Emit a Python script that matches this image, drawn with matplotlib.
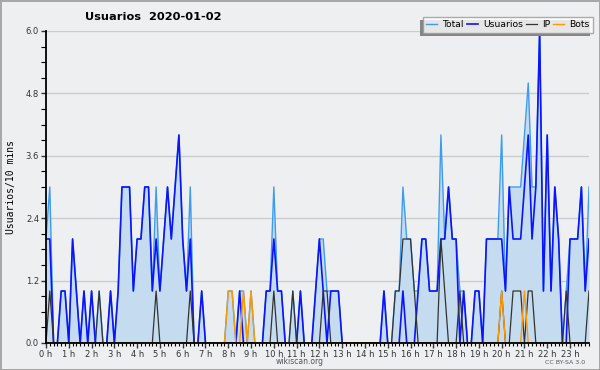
import numpy as np
import matplotlib.pyplot as plt
from matplotlib.patches import Rectangle
from matplotlib.transforms import IdentityTransform

# 每 10 分钟一个值，每行是一个小时 (6 个值)
total = [
    2, 3, 0, 0, 1, 1,
    0, 2, 1, 0, 1, 0,
    1, 0, 1, 0, 0, 1,
    0, 1, 3, 3, 3, 1,
    2, 2, 3, 3, 1, 3,
    1, 2, 3, 2, 3, 4,
    2, 1, 3, 0, 0, 1,
    0, 0, 0, 0, 0, 0,
    1, 1, 0, 1, 1, 0,
    1, 0, 0, 0, 1, 1,
    3, 1, 1, 0, 0, 1,
    0, 1, 0, 0, 0, 1,
    2, 2, 1, 1, 1, 1,
    0, 0, 0, 0, 0, 0,
    0, 0, 0, 0, 0, 1,
    0, 0, 1, 1, 3, 2,
    2, 1, 1, 2, 2, 1,
    1, 1, 4, 2, 3, 2,
    2, 1, 1, 0, 0, 1,
    1, 0, 2, 2, 2, 2,
    4, 1, 3, 3, 3, 3,
    4, 5, 3, 3, 6, 1,
    4, 1, 3, 2, 0, 1,
    2, 2, 2, 3, 1, 3,
]
usuarios = [
    2, 2, 0, 0, 1, 1,
    0, 2, 1, 0, 1, 0,
    1, 0, 0, 0, 0, 1,
    0, 1, 3, 3, 3, 1,
    2, 2, 3, 3, 1, 2,
    1, 2, 3, 2, 3, 4,
    2, 1, 2, 0, 0, 1,
    0, 0, 0, 0, 0, 0,
    0, 0, 0, 1, 0, 0,
    0, 0, 0, 0, 1, 1,
    2, 1, 1, 0, 0, 0,
    0, 1, 0, 0, 0, 1,
    2, 1, 0, 1, 1, 1,
    0, 0, 0, 0, 0, 0,
    0, 0, 0, 0, 0, 1,
    0, 0, 0, 0, 1, 0,
    0, 0, 1, 2, 2, 1,
    1, 1, 2, 2, 3, 2,
    2, 0, 1, 0, 0, 1,
    1, 0, 2, 2, 2, 2,
    2, 1, 3, 2, 2, 2,
    3, 4, 2, 3, 6, 1,
    4, 1, 3, 2, 0, 0,
    2, 2, 2, 3, 1, 2,
]
ip = [
    0, 1, 0, 0, 0, 0,
    0, 0, 0, 0, 0, 0,
    0, 0, 1, 0, 0, 0,
    0, 0, 0, 0, 0, 0,
    0, 0, 0, 0, 0, 1,
    0, 0, 0, 0, 0, 0,
    0, 0, 1, 0, 0, 0,
    0, 0, 0, 0, 0, 0,
    0, 0, 0, 0, 0, 0,
    0, 0, 0, 0, 0, 0,
    1, 0, 0, 0, 0, 1,
    0, 0, 0, 0, 0, 0,
    0, 1, 1, 0, 0, 0,
    0, 0, 0, 0, 0, 0,
    0, 0, 0, 0, 0, 0,
    0, 0, 1, 1, 2, 2,
    2, 1, 0, 0, 0, 0,
    0, 0, 2, 1, 0, 0,
    0, 1, 0, 0, 0, 0,
    0, 0, 0, 0, 0, 0,
    1, 0, 0, 1, 1, 1,
    0, 1, 1, 0, 0, 0,
    0, 0, 0, 0, 0, 1,
    0, 0, 0, 0, 0, 1,
]
bots = [
    0, 0, 0, 0, 0, 0,
    0, 0, 0, 0, 0, 0,
    0, 0, 0, 0, 0, 0,
    0, 0, 0, 0, 0, 0,
    0, 0, 0, 0, 0, 0,
    0, 0, 0, 0, 0, 0,
    0, 0, 0, 0, 0, 0,
    0, 0, 0, 0, 0, 0,
    1, 1, 0, 0, 1, 0,
    1, 0, 0, 0, 0, 0,
    0, 0, 0, 0, 0, 0,
    0, 0, 0, 0, 0, 0,
    0, 0, 0, 0, 0, 0,
    0, 0, 0, 0, 0, 0,
    0, 0, 0, 0, 0, 0,
    0, 0, 0, 0, 0, 0,
    0, 0, 0, 0, 0, 0,
    0, 0, 0, 0, 0, 0,
    0, 0, 0, 0, 0, 0,
    0, 0, 0, 0, 0, 0,
    1, 0, 0, 0, 0, 0,
    1, 0, 0, 0, 0, 0,
    0, 0, 0, 0, 0, 0,
    0, 0, 0, 0, 0, 0,
]
horas = list(range(24))
etiquetas_horas = [f'{h} h' for h in horas]
y_ticks = [0.0, 1.2, 2.4, 3.6, 4.8, 6.0]

bg = '#eeeff1'
slots = np.arange(len(total))

fig = plt.figure(figsize=(6, 3.7), dpi=100, facecolor=bg)
fig.patch.set_edgecolor('#a8a8a8')
fig.patch.set_linewidth(2)
ax = fig.add_axes([46 / 600, 27 / 370, 543 / 600, 312 / 370])
ax.set_facecolor(bg)

# 面积 + 线
ax.fill_between(slots, total, 0, color='#c5dcf0', lw=0, zorder=1)
l_total, = ax.plot(slots, total, color='#3d9cf0', lw=1.0, zorder=2, label='Total')
l_usr, = ax.plot(slots, usuarios, color='#0a14ff', lw=1.2, zorder=3, label='Usuarios')
l_ip, = ax.plot(slots, ip, color='#333333', lw=0.9, zorder=4, label='IP')
l_bots, = ax.plot(slots, bots, color='#ff9900', lw=1.0, zorder=5, label='Bots')

ax.set_xlim(0, len(total) - 1)
ax.set_ylim(0, 6.0)

# 坐标轴
for s in ['top', 'right']:
    ax.spines[s].set_visible(False)
for s in ['left', 'bottom']:
    ax.spines[s].set_linewidth(1.3)
    ax.spines[s].set_zorder(6)

ax.set_yticks(y_ticks)
ax.set_yticklabels([f'{v:.1f}' for v in y_ticks])
ax.set_yticks(np.arange(0, 6.01, 0.3), minor=True)
ax.set_xticks([h * 6 for h in horas])
ax.set_xticklabels(etiquetas_horas)
ax.set_xticks(slots, minor=True)
ax.tick_params(axis='both', which='major', labelsize=6, colors='#333333', length=3.5, width=1, pad=1.5)
ax.tick_params(axis='x', which='minor', length=2.5, width=0.8)
ax.tick_params(axis='y', which='minor', length=3.5, width=0.8)
ax.yaxis.grid(True, which='major', color='#cccccc', lw=1)
ax.set_axisbelow(True)

ax.set_ylabel('Usuarios/10 mins', fontsize=7, family='DejaVu Sans Mono', labelpad=7)

fig.text(85 / 600, 1 - 17 / 370, 'Usuarios  2020-01-02', fontsize=8.2, fontweight='bold',
         ha='left', va='center')
fig.text(300 / 600, 1 - 362 / 370, 'wikiscan.org', fontsize=5.5, color='#555555',
         ha='center', va='center')
fig.text(565 / 600, 1 - 362 / 370, 'CC BY-SA 3.0', fontsize=4.5, color='#555555',
         ha='center', va='center')

# 图例 + 阴影
leg = fig.legend(handles=[l_total, l_usr, l_ip, l_bots], ncol=4, loc='upper right',
                 bbox_to_anchor=(593 / 600, 1 - 17 / 370), fontsize=6.7, frameon=True,
                 fancybox=False, borderpad=0.35, handlelength=1.2, handletextpad=0.55,
                 columnspacing=0.3, borderaxespad=0)
leg.get_frame().set_edgecolor('#999999')
leg.get_frame().set_facecolor('white')
leg.get_frame().set_linewidth(1)
leg.set_zorder(10)

fig.canvas.draw()
bb = leg.get_window_extent()
shadow = Rectangle((bb.x0 - 3, bb.y0 - 3), bb.width, bb.height, transform=IdentityTransform(),
                   facecolor='#858585', edgecolor='none', zorder=9)
fig.add_artist(shadow)

fig.savefig('out.png', dpi=100, facecolor=bg)
